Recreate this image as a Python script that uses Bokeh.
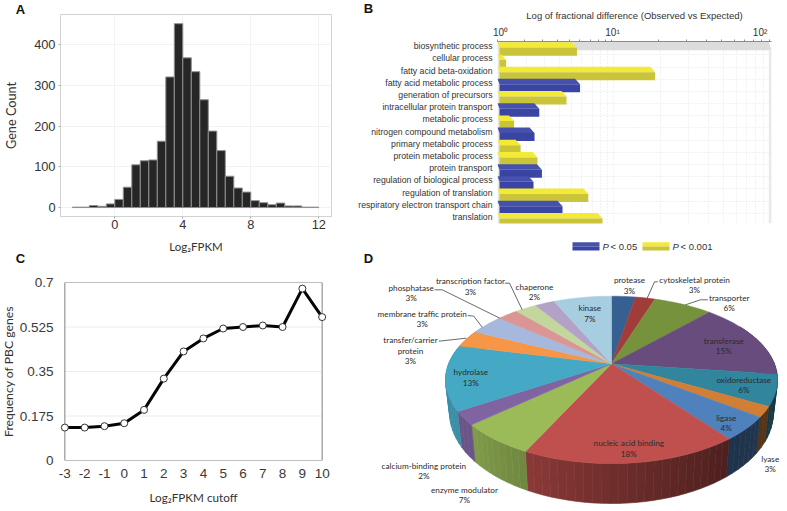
import numpy as np
from bokeh.plotting import figure
from bokeh.layouts import row, column
from bokeh.models import (Range1d, FixedTicker)
from bokeh.core.properties import value
from bokeh.embed import file_html
from bokeh.resources import INLINE

# ---------------- data ----------------
hist_edges = [-2.5,-2,-1.5,-1,-.5,0,.5,1,1.5,2,2.5,3,3.5,4,4.5,5,5.5,6,6.5,7,7.5,8,8.5,9,9.5,10,10.5,11,11.5,12]
hist_counts = [1,1,5,3,9,20,50,105,115,117,163,321,452,368,334,265,188,140,77,48,38,17,12,7,11,4,4,1,1]

go_terms = ["biosynthetic process","cellular process","fatty acid beta-oxidation","fatty acid metabolic process",
            "generation of precursors","intracellular protein transport","metabolic process",
            "nitrogen compound metabolism","primary metabolic process","protein metabolic process",
            "protein transport","regulation of biological process","regulation of translation",
            "respiratory electron transport chain","translation"]
go_values = [5.2,1.1,17.6,5.5,4.3,2.5,1.35,2.25,1.6,2.4,2.65,2.2,6.3,4.0,7.9]
go_signif = ["y","y","y","b","y","b","y","b","y","y","b","b","y","b","y"]

cutoffs = [-3,-2,-1,0,1,2,3,4,5,6,7,8,9,10]
pbc_freq = [0.1295,0.1295,0.135,0.1465,0.199,0.322,0.429,0.48,0.519,0.525,0.531,0.525,0.676,0.564]
pbc_ticks = [0,0.175,0.35,0.525,0.7]

pie_names = ["protease","cytoskeletal protein","transporter","transferase","oxidoreductase","lyase","ligase",
             "nucleic acid binding","enzyme modulator","calcium-binding protein","hydrolase",
             "transfer/carrier protein","membrane traffic protein","phosphatase","transcription factor","chaperone","kinase"]
pie_labels = ["3%","3%","6%","15%","6%","3%","4%","18%","7%","2%","13%","3%","3%","3%","3%","2%","7%"]
pie_shares = [2.8,2.3,6.9,15.0,6.0,2.0,4.5,17.7,6.3,2.6,12.6,3.3,3.9,2.5,2.5,2.3,6.8]

legend_labels = ["< 0.05", "< 0.001"]

# ---------------- styles / layout ----------------
SANS = "Liberation Sans"
CAL = "Lato"
TXT = "#333333"
pie_colors = ["#366092","#a03c3a","#76923c","#684c7e","#31859c","#d07f35","#4f81bd","#c0504d","#9bbb59",
              "#8064a2","#45a8c5","#f79646","#a6b8dc","#d99694","#c3d69b","#b3a2c7","#a6cee0"]
ROW1 = 260

def fig(w, h, l, r, t, b, xr, yr, **kw):
    p = figure(title=None, width=w, height=h, x_range=Range1d(*xr), y_range=Range1d(*yr), output_backend="svg",
               toolbar_location=None, min_border_left=l, min_border_right=r, min_border_top=t, min_border_bottom=b,
               frame_align=False, **kw)
    return p

# ---------------- A ----------------
AX = (-3.194, 12.747); AY = (-22, 474.6)
a = fig(345, ROW1, 60, 14, 14, ROW1-216, AX, AY)
a.quad(left=hist_edges[:-1], right=hist_edges[1:], bottom=0, top=hist_counts,
       fill_color="#262626", line_color="#8f8f8f", line_width=1)
a.xaxis.ticker = [0,4,8,12]
a.yaxis.ticker = [0,100,200,300,400]
a.xaxis.axis_label = "Log\u2082FPKM"
a.yaxis.axis_label = "Gene Count"
for ax in a.xaxis + a.yaxis:
    ax.axis_line_color = None
    ax.major_tick_line_color = "#aaaaaa"
    ax.major_tick_in = 0
    ax.major_tick_out = 2
    ax.minor_tick_line_color = None
    ax.major_label_text_font = SANS
    ax.major_label_text_font_size = "12.8px"
    ax.major_label_text_color = TXT
    ax.axis_label_text_font = CAL
    ax.axis_label_text_font_style = "normal"
    ax.axis_label_text_color = TXT
a.xaxis.major_label_standoff = 1
a.yaxis.major_label_standoff = 3
a.xaxis.axis_label_text_font_size = "11.5px"
a.yaxis.axis_label_text_font_size = "12.7px"
a.xaxis.axis_label_standoff = 8
a.yaxis.axis_label_standoff = 12
a.grid.grid_line_color = "#f2f2f2"
a.grid.minor_grid_line_color = "#f8f8f8"
a.outline_line_color = "#d2d2d2"

# ---------------- B ----------------
# the reference's axis is not evenly spaced; these are the tick positions read from it
scale_log = [0,.301,.477,.602,.699,.778,.845,.903,.954,1,2]
scale_pos = [0,26.7,45,60,72.3,82.3,93.3,100.7,107.7,114,271.6]
def warp(v):
    return np.interp(np.log10(v), scale_log, scale_pos)

ROW = 12.19
TOPH, FRONTH, DX = 5.5/ROW, 8.0/ROW, 5.0
y0 = (41.0-45.8)/ROW
y1 = (223.0-45.8)/ROW
b = fig(440, ROW1, 152, 14, 41, ROW1-223, (0, 274), (y1, y0), x_axis_location="above")

# floor band and walls
b.patch([0,271.3,274,0],[y0,y0,y0+8.7/ROW,y0+8.7/ROW], fill_color="#dcdcdc", line_color=None)
b.quad(left=271.3, right=274, top=y0+8.7/ROW, bottom=y1, fill_color="#e9e9e9", line_color=None)
b.quad(left=0, right=2.5, top=y0, bottom=y1, fill_color="#e6e6e6", line_color=None)

xs, ys, cols = [], [], []
bar_cols = {"y": ("#f3ea36","#c9c43a"), "b": ("#4651ad","#3a45a3")}
for i, (v, s) in enumerate(zip(go_values, go_signif)):
    u = float(warp(v))
    t = i - 0.33
    m = t + TOPH
    e = m + FRONTH
    xs += [[0,u,u+DX,2], [2,u+DX,u+DX,2]]
    ys += [[t,t,m,m], [m,m,e,e]]
    cols += list(bar_cols[s])
b.patches(xs, ys, fill_color=cols, line_color=None)

label_pos = [round(float(warp(1))+3,1), round(float(warp(10))+1,1), round(float(warp(100))-9,1)]
minor = [float(warp(t)) for t in [1,2,3,4,5,6,7,8,9,10,20,30,40,50,60,70,80,90,100]]
b.xaxis.ticker = FixedTicker(ticks=label_pos, minor_ticks=minor)
b.xaxis.major_label_overrides = dict(zip(label_pos, ["10\u2070","10\u00b9","10\u00b2"]))
b.xaxis.axis_label = "Log of fractional difference (Observed vs Expected)"
b.xaxis.axis_line_color = "#8c8c8c"
b.xaxis.major_tick_line_color = None
b.xaxis.major_tick_out = 0
b.xaxis.major_tick_in = 0
b.xaxis.minor_tick_line_color = "#8c8c8c"
b.xaxis.minor_tick_out = 2
b.xaxis.minor_tick_in = 0
b.xaxis.major_label_standoff = 2
b.xaxis.major_label_text_font = SANS
b.xaxis.major_label_text_font_size = "10px"
b.xaxis.major_label_text_color = TXT
b.xaxis.axis_label_text_font = SANS
b.xaxis.axis_label_text_font_size = "9.5px"
b.xaxis.axis_label_text_font_style = "normal"
b.xaxis.axis_label_text_color = TXT
b.xaxis.axis_label_standoff = 3
rows_idx = list(range(len(go_terms)))
b.yaxis.ticker = rows_idx
b.yaxis.major_label_overrides = dict(zip(rows_idx, go_terms))
b.yaxis.axis_line_color = None
b.yaxis.major_tick_line_color = None
b.yaxis.major_tick_out = 0
b.yaxis.major_tick_in = 0
b.yaxis.minor_tick_line_color = None
b.yaxis.major_label_standoff = 5
b.yaxis.major_label_text_font = SANS
b.yaxis.major_label_text_font_size = "8.7px"
b.yaxis.major_label_text_color = TXT
b.xgrid.ticker = FixedTicker(ticks=[m + 2 for m in minor])
b.ygrid.ticker = FixedTicker(ticks=[i + 0.7 for i in rows_idx])
b.grid.grid_line_color = "#e4e4e4"
b.grid.grid_line_dash = "1 2"
b.outline_line_color = None

# ---------------- C ----------------
CXR = (-3.27, 10.27); CYR = (0, 0.7)
c = fig(348, 509-ROW1, 61, 18, 282-ROW1, 49, CXR, CYR, styles={"margin-left": "-3px"})
c.segment(x0=-3, x1=10, y0=pbc_ticks[1:4], y1=pbc_ticks[1:4], line_color="#ececec", line_width=1)
c.quad(left=-3, right=10, bottom=0, top=0.7, fill_color=None, line_color="#808080", line_width=1)
c.line(cutoffs, pbc_freq, line_color="#050505", line_width=3)
c.scatter(cutoffs, pbc_freq, size=7, fill_color="white", line_color="#333333", line_width=1)
c.xaxis.ticker = cutoffs
c.xaxis.major_label_overrides = {k: str(k) for k in cutoffs}
c.yaxis.ticker = pbc_ticks
c.yaxis.major_label_overrides = {0:"0",0.175:"0.175",0.35:"0.35",0.525:"0.525",0.7:"0.7"}
c.xaxis.axis_label = "Log\u2082FPKM cutoff"
c.yaxis.axis_label = "Frequency of PBC genes"
for ax in c.xaxis + c.yaxis:
    ax.axis_line_color = None
    ax.major_tick_line_color = None
    ax.major_tick_out = 0
    ax.major_tick_in = 0
    ax.minor_tick_line_color = None
    ax.major_label_text_font = SANS
    ax.major_label_text_font_size = "13.5px"
    ax.major_label_text_color = "#3a3a3a"
    ax.axis_label_text_font = CAL
    ax.axis_label_text_font_style = "normal"
    ax.axis_label_text_color = TXT
c.xaxis.axis_label_text_font_size = "11.7px"
c.yaxis.axis_label_text_font_size = "12.2px"
c.xaxis.major_label_standoff = 8
c.yaxis.major_label_standoff = 6
c.xaxis.axis_label_standoff = 9
c.yaxis.axis_label_standoff = 1
c.grid.visible = False
c.outline_line_color = None

# ---------------- D ----------------
d = fig(440, 509-ROW1, 0, 0, 0, 0, (345, 785), (509, ROW1))
d.axis.visible = False
d.grid.visible = False
d.outline_line_color = None

CX, CY, AA, BB, K = 611.0, 363.3, 162.9, 80.6, 0.192
def top_xy(theta):
    u, v = np.sin(theta), np.cos(theta)
    w = 1 + K*v
    return CX + AA*u/w, CY - BB*v/w
def rim_xy(theta):
    x, y = top_xy(theta)
    return CX + (x-CX)*0.975, CY + (y-CY)*1.08 + 32

def darken(col, f):
    r, g, bl = [int(col[i:i+2],16) for i in (1,3,5)]
    return "#%02x%02x%02x" % (int(r*f), int(g*f), int(bl*f))

cum = np.cumsum([0] + pie_shares) / sum(pie_shares) * 2*np.pi
shade_at = [np.radians(t) for t in (60,120,142,180,205,230,300)]
shade_val = [.5,.42,.4,.58,.72,.84,.85]
sx, sy, sc = [], [], []
for k, col in enumerate(pie_colors):
    lo, hi = max(cum[k], np.radians(60)), min(cum[k+1], np.radians(300))
    if hi <= lo:
        continue
    n = max(2, int(np.degrees(hi-lo)/2.5)+1)
    th = np.linspace(lo, hi, n)
    for t0, t1 in zip(th[:-1], th[1:]):
        x0, y0_ = top_xy(np.array([t0, t1]))
        x1, y1_ = rim_xy(np.array([t1, t0]))
        sx.append(list(x0)+list(x1)); sy.append(list(y0_)+list(y1_))
        sc.append(darken(col, float(np.interp((t0+t1)/2, shade_at, shade_val))))
d.patches(sx, sy, fill_color=sc, line_color=sc, line_width=0.6)

tx, ty = [], []
for k in range(len(pie_shares)):
    th = np.linspace(cum[k], cum[k+1], max(3, int(pie_shares[k]*2)))
    x, y = top_xy(th)
    tx.append([CX]+list(x)); ty.append([CY]+list(y))
d.patches(tx, ty, fill_color=pie_colors, line_color=pie_colors, line_width=0.5)

# leader lines
lead_x = [[438.3,465.7],[467.3,473.3,481.7],[434,441.7,499.3],[504.3,509,521.7],[657.3,654,646.7],[707.3,700,685]]
lead_y = [[340.7,337.7],[315,315.7,326.7],[289.3,289.3,317.7],[282.7,282.7,309.3],[281.3,281.3,297.7],[299.3,299.3,304.3]]
d.multi_line(lead_x, lead_y, line_color="#444444", line_width=0.8)

# label centres, same order as pie_names
label_xy = [(629,279.7),(694,279.3),(728.7,297.3),(723.3,340),(743.3,379.3),(769.7,458),(725.7,417),(628.3,442.7),
            (464,489.3),(423.3,465),(470.3,371.7),(410,339.7),(421.7,313.3),(410.7,287.3),(470,280.7),(534,286.3),(589.3,307.7)]
LH = 10.35
tx_, ty_, tt = [], [], []
for name, pct, (x, y) in zip(pie_names, pie_labels, label_xy):
    lines = ["transfer/carrier", "protein"] if name.startswith("transfer/") else [name]
    for j, s in enumerate(lines + [pct]):
        tx_.append(x); ty_.append(y + j*LH); tt.append(s)
d.text(tx_, ty_, text=tt, text_font=value(CAL), text_font_size="8.2px", text_color="#2b2b2b",
       text_align="center", text_baseline="middle")

layout = column(row(a, b, spacing=0), row(c, d, spacing=0), spacing=0,
                styles={"position": "absolute", "left": "0px", "top": "0px", "width": "787px"})

# ---------------- overlay: panel letters and the legend of B ----------------
o = figure(title=None, width=787, height=511, x_range=Range1d(0, 787), y_range=Range1d(511, 0), output_backend="svg",
           toolbar_location=None, min_border=0, background_fill_alpha=0, border_fill_alpha=0, outline_line_color=None,
           frame_align=False, styles={"position": "absolute", "left": "0px", "top": "0px"})
o.axis.visible = False
o.grid.visible = False
o.text([20, 368, 20, 368], [9, 8, 258, 258], text=["A", "B", "C", "D"], text_font=value(SANS), text_font_style="bold",
       text_font_size="13px", text_color="#111111", text_align="center", text_baseline="middle")
swatch_x = [572, 642]
for lx, c1, c2, txt in zip(swatch_x, ["#4651ad", "#f3ea36"], ["#3a45a3", "#c9c43a"], legend_labels):
    o.quad(left=lx, right=lx+27, top=241.7, bottom=246, fill_color=c1, line_color=None)
    o.quad(left=lx, right=lx+27, top=246, bottom=250, fill_color=c2, line_color=None)
    o.text([lx+30], [246], text=["P"], text_font=value(SANS), text_font_style="italic", text_font_size="9.5px",
           text_color=TXT, text_baseline="middle")
    o.text([lx+38], [246], text=[txt], text_font=value(SANS), text_font_size="9.5px",
           text_color=TXT, text_baseline="middle")

open("out.html", "w").write(file_html((layout, o), INLINE))
